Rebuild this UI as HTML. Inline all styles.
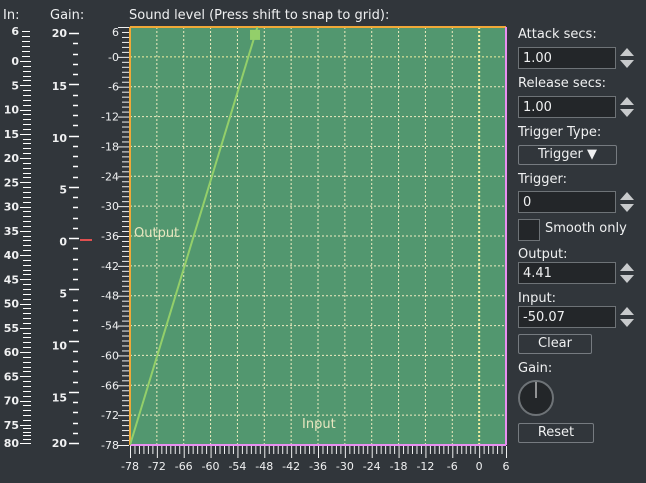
<!DOCTYPE html>
<html><head><meta charset="utf-8">
<style>
body{margin:0;background:#31363b;width:646px;height:483px;overflow:hidden;font-family:"Liberation Sans","DejaVu Sans",sans-serif;color:#eff0f1}
svg{position:absolute;left:0;top:0}
.lbl{position:absolute;font-size:13px;color:#eff0f1;font-family:"DejaVu Sans","Liberation Sans",sans-serif}
.box{position:absolute;left:518px;width:98px;height:22px;background:#232629;border:1px solid #6e7377;box-sizing:border-box;font-size:13px;padding:3px 0 0 4px;font-family:"DejaVu Sans",sans-serif}
.btn{position:absolute;left:518px;height:20px;border:1px solid #767b80;border-radius:2px;box-sizing:border-box;font-size:13px;text-align:center;line-height:18px;font-family:"DejaVu Sans",sans-serif}
</style></head><body>
<svg id="s" width="646" height="483"></svg>
<div class="lbl" style="left:3px;top:8px">In:</div>
<div class="lbl" style="left:50px;top:8px">Gain:</div>
<div class="lbl" style="left:129px;top:8px">Sound level (Press shift to snap to grid):</div>
<div class="lbl" style="left:518px;top:27px">Attack secs:</div>
<div class="box" style="top:47px">1.00</div>
<div class="lbl" style="left:518px;top:76px">Release secs:</div>
<div class="box" style="top:96px">1.00</div>
<div class="lbl" style="left:518px;top:125px">Trigger Type:</div>
<div class="btn" style="top:145px;width:99px">Trigger ▼</div>
<div class="lbl" style="left:518px;top:172px">Trigger:</div>
<div class="box" style="top:191px">0</div>
<div style="position:absolute;left:518px;top:219px;width:22px;height:22px;border:1px solid #6e7377;box-sizing:border-box;background:#232629"></div>
<div class="lbl" style="left:545px;top:221px">Smooth only</div>
<div class="lbl" style="left:518px;top:247px">Output:</div>
<div class="box" style="top:262px">4.41</div>
<div class="lbl" style="left:518px;top:291px">Input:</div>
<div class="box" style="top:306px">-50.07</div>
<div class="btn" style="top:334px;width:74px">Clear</div>
<div class="lbl" style="left:518px;top:361px">Gain:</div>
<div class="btn" style="top:423px;width:76px">Reset</div>
<script>
const xTicks=[-78,-72,-66,-60,-54,-48,-42,-36,-30,-24,-18,-12,-6,0,6];
const yTicks=[6,0,-6,-12,-18,-24,-30,-36,-42,-48,-54,-60,-66,-72,-78];
const yTickLabels=["6","-0","-6","-12","-18","-24","-30","-36","-42","-48","-54","-60","-66","-72","-78"];
const inLabels=[6,0,5,10,15,20,25,30,35,40,45,50,55,60,65,70,75,80];
const gainLabels=[20,15,10,5,0,5,10,15,20];
const curveIn=[-78,-50.07];
const curveOut=[-78,4.41];
const s=document.getElementById('s');
const NS='http://www.w3.org/2000/svg';
function mk(t,a,p){const e=document.createElementNS(NS,t);for(const k in a)e.setAttribute(k,a[k]);(p||s).appendChild(e);return e;}
const L=130,R=506,T=27,B=445;
const xs=v=>L+(v+78)*(R-L)/84, ys=v=>T+(6-v)*(B-T)/84;
let bg=mk('rect',{x:L,y:T,width:R-L,height:B-T,fill:'#52976f'});


xTicks.forEach(v=>{if(v===-78||v===6)return;const g=mk('line',{x1:xs(v),x2:xs(v),y1:T,y2:B,stroke:v===0?'#f3eea0':'#f0ecc0','stroke-width':v===0?2:1,'stroke-dasharray':'2,2'});

});
yTicks.forEach(v=>{if(v===6||v===-78)return;const g=mk('line',{x1:L,x2:R,y1:ys(v),y2:ys(v),stroke:v===0?'#f3eea0':'#f0ecc0','stroke-width':1,'stroke-dasharray':'2,2'});

});
mk('line',{x1:L,x2:R,y1:T,y2:T,stroke:'#f0a838','stroke-width':2});
mk('line',{x1:L,x2:L,y1:T,y2:B,stroke:'#f0a838','stroke-width':2});
mk('line',{x1:L,x2:R,y1:B,y2:B,stroke:'#e88ff0','stroke-width':2});
mk('line',{x1:R,x2:R,y1:T,y2:B,stroke:'#e88ff0','stroke-width':2});
const cp=mk('clipPath',{id:'c'});mk('rect',{x:L,y:T,width:R-L,height:B-T},cp);
const k=(curveOut[1]-curveOut[0])/(curveIn[1]-curveIn[0]);
const topIn=curveIn[0]+(6-curveOut[0])/k;
const ln=mk('line',{x1:xs(curveIn[0]),y1:ys(curveOut[0]),x2:xs(topIn),y2:ys(6),stroke:'#93cf6a','stroke-width':2,'clip-path':'url(#c)'});


const pt=mk('rect',{x:xs(curveIn[1])-5,y:ys(curveOut[1])-5,width:10,height:10,fill:'#93cf6a'});


let t=mk('text',{x:134,y:237,fill:'#e8e6c0','font-size':13,'font-family':'DejaVu Sans,sans-serif'});t.textContent='Output';


t=mk('text',{x:302,y:428,fill:'#e8e6c0','font-size':13,'font-family':'DejaVu Sans,sans-serif'});t.textContent='Input';


for(let v=6;v>=-78;v--){const maj=(v%6===0);mk('line',{x1:maj?118:122,x2:129,y1:ys(v)+.5,y2:ys(v)+.5,stroke:'#eff0f1','stroke-width':1});}
yTicks.forEach((v,i)=>{const e=mk('text',{x:119,y:ys(v)+(i===0?9:4),'text-anchor':'end',fill:'#eff0f1','font-size':11,'font-family':'DejaVu Sans,sans-serif'});e.textContent=yTickLabels[i];

});
for(let v=-78;v<=6;v++){const maj=(v%6===0);mk('line',{x1:xs(v)+.5,x2:xs(v)+.5,y1:446,y2:maj?458:454,stroke:'#eff0f1','stroke-width':1});}
xTicks.forEach(v=>{const e=mk('text',{x:xs(v),y:470,'text-anchor':'middle',fill:'#eff0f1','font-size':11,'font-family':'DejaVu Sans,sans-serif'});e.textContent=String(v);

});
const inY=v=>v===6?31:(v<=75?61+v*4.85:443);
for(let v=6;v>=0;v--)mk('line',{x1:22,x2:30,y1:61-v*5+.5,y2:61-v*5+.5,stroke:'#fff'});
for(let v=0;v<=80;v++){const y=v<=75?61+v*4.85:424+(v-75)*3.8;mk('line',{x1:v%5===0?20:23,x2:31,y1:Math.round(y)+.5,y2:Math.round(y)+.5,stroke:'#fff'});}
inLabels.forEach(v=>{const e=mk('text',{x:19,y:inY(v)+4,'text-anchor':'end',fill:'#eff0f1','font-size':11,'font-weight':'bold','font-family':'DejaVu Sans,sans-serif'});e.textContent=v;

});
const gY=i=>i===0?33:(i===8?443:34+i*51.9);
for(let j=0;j<=40;j++){const y=Math.round(33+j*(443-33)/40)+.5;mk('line',{x1:j%5===0?69:73,x2:j%5===0?79:78,y1:y,y2:y,stroke:'#fff','stroke-width':1.5});}
gainLabels.forEach((v,i)=>{const e=mk('text',{x:67,y:gY(i)+4,'text-anchor':'end',fill:'#eff0f1','font-size':11,'font-weight':'bold','font-family':'DejaVu Sans,sans-serif'});e.textContent=v;

});
mk('line',{x1:80,x2:92,y1:240,y2:240,stroke:'#e05050','stroke-width':2});
[58,107,202,273,317].forEach(y=>{mk('path',{d:`M620 ${y-2}l7-8l7 8z M620 ${y+2}l7 8l7-8z`,fill:'#c8cacc'});});
const kn=mk('circle',{cx:536,cy:398,r:17,fill:'#232629',stroke:'#6e7377','stroke-width':2});


mk('line',{x1:536,x2:536,y1:382,y2:398,stroke:'#fff','stroke-width':1});
</script>
</body></html>
